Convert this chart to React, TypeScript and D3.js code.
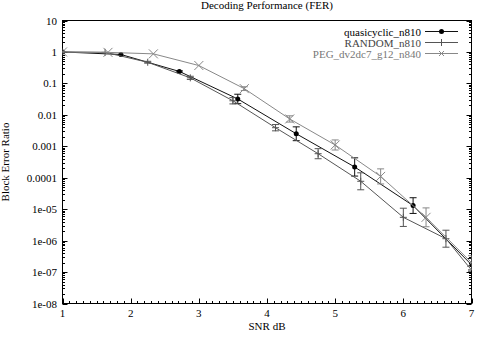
import React from "react";
import * as d3 from "d3";

const quasiX = [1, 1.857, 2.714, 3.571, 4.429, 5.286, 6.143, 7.0];
const quasiY = [1, 0.83, 0.24, 0.032, 0.0025, 0.00022, 1.3e-5, 1.7e-7];
const quasiErr = [0, 0, 0.02, 0.15, 0.22, 0.29, 0.25, 0.2];

const randX = [1, 1.625, 2.25, 2.875, 3.5, 4.125, 4.75, 5.375, 6.0, 6.625, 7.25];
const randY = [1, 0.97, 0.47, 0.15, 0.028, 0.0039, 0.00058, 7.7e-5, 5.5e-6, 1.15e-6, 2.5e-8];
const randErr = [0, 0, 0.03, 0.05, 0.1, 0.1, 0.16, 0.27, 0.29, 0.27, 0];

const pegX = [1, 1.667, 2.333, 3.0, 3.667, 4.333, 5.0, 5.667, 6.333, 7.0];
const pegY = [1, 0.97, 0.87, 0.37, 0.068, 0.0074, 0.0011, 0.00011, 5.5e-6, 2.0e-7];
const pegErr = [0, 0, 0, 0, 0.06, 0.1, 0.16, 0.24, 0.3, 0.22];

const xTicks = [1, 2, 3, 4, 5, 6, 7];
const yTicks = [10, 1, 0.1, 0.01, 0.001, 0.0001, 1e-5, 1e-6, 1e-7, 1e-8];
const yTickLabels = ["10", "1", "0.1", "0.01", "0.001", "0.0001", "1e-05", "1e-06", "1e-07", "1e-08"];
const seriesNames = ["quasicyclic_n810", "RANDOM_n810", "PEG_dv2dc7_g12_n840"];

const W = 479, H = 337;
const L = 62.5, R = 471.5, T = 20.5, B = 303.5;
const FONT = "'Liberation Serif', 'DejaVu Serif', serif";

export default function App() {
  const x = d3.scaleLinear().domain([1, 7]).range([L, R]);
  const y = d3.scaleLog().domain([1e-8, 10]).range([B, T]);

  const series = [
    { name: seriesNames[0], xs: quasiX, ys: quasiY, es: quasiErr, color: "#111", text: "#000", marker: "dot" },
    { name: seriesNames[1], xs: randX, ys: randY, es: randErr, color: "#555", text: "#444", marker: "plus" },
    { name: seriesNames[2], xs: pegX, ys: pegY, es: pegErr, color: "#888", text: "#777", marker: "x" },
  ];

  const line = d3.line<[number, number]>().x(d => x(d[0])).y(d => y(d[1]));

  const marker = (type: string, cx: number, cy: number, color: string, key: string) => {
    if (type === "dot") return <circle key={key} cx={cx} cy={cy} r={2.5} fill="#000" />;
    if (type === "plus") {
      const a = 3.5;
      return <path key={key} d={`M${cx - a},${cy}H${cx + a}M${cx},${cy - a}V${cy + a}`} stroke={color} strokeWidth={1} fill="none" />;
    }
    const a = 4.5;
    return <path key={key} d={`M${cx - a},${cy - a}L${cx + a},${cy + a}M${cx - a},${cy + a}L${cx + a},${cy - a}`} stroke={color} strokeWidth={1} fill="none" />;
  };

  // minor ticks
  const xMinor: number[] = [];
  for (let v = 1; v < 7; v++) for (let k = 1; k < 10; k++) xMinor.push(v + k / 10);
  const yMinor: number[] = [];
  for (let e = -8; e < 1; e++) for (let k = 2; k < 10; k++) yMinor.push(k * Math.pow(10, e));

  return (
    <svg width={W} height={H} style={{ position: "absolute", left: 0, top: 0, background: "#fff" }} fontFamily={FONT}>
      <defs>
        <clipPath id="plotclip">
          <rect x={L} y={T} width={R - L} height={B - T} />
        </clipPath>
      </defs>
      <rect x={0} y={0} width={W} height={H} fill="#fff" />
      <text x={(L + R) / 2} y={9} fontSize={11} textAnchor="middle" fill="#000">Decoding Performance (FER)</text>

      {/* x ticks */}
      {xTicks.map(v => (
        <g key={"xt" + v}>
          <line x1={Math.round(x(v)) + 0.5} x2={Math.round(x(v)) + 0.5} y1={B} y2={B - 5} stroke="#000" />
          <text x={x(v)} y={317} fontSize={11} textAnchor="middle" fill="#000">{v}</text>
        </g>
      ))}
      {xMinor.map((v, i) => (
        <line key={"xm" + i} x1={Math.round(x(v)) + 0.5} x2={Math.round(x(v)) + 0.5} y1={B} y2={B - 2.5} stroke="#000" />
      ))}

      {/* y ticks */}
      {yTicks.map((v, i) => {
        const py = Math.round(y(v)) + 0.5;
        return (
          <g key={"yt" + i}>
            <line x1={L} x2={L + 5} y1={py} y2={py} stroke="#000" />
            <line x1={R} x2={R - 5} y1={py} y2={py} stroke="#000" />
            <text x={57} y={y(v) + 4} fontSize={11} textAnchor="end" fill="#000">{yTickLabels[i]}</text>
          </g>
        );
      })}
      {yMinor.map((v, i) => {
        const py = Math.round(y(v)) + 0.5;
        return (
          <g key={"ym" + i}>
            <line x1={L} x2={L + 2.5} y1={py} y2={py} stroke="#000" />
            <line x1={R} x2={R - 2.5} y1={py} y2={py} stroke="#000" />
          </g>
        );
      })}

      <rect x={L} y={T} width={R - L} height={B - T} fill="none" stroke="#000" strokeWidth={1} />

      <text x={(L + R) / 2} y={330} fontSize={11} textAnchor="middle" fill="#000">SNR dB</text>
      <text transform={`translate(9,${(T + B) / 2}) rotate(-90)`} fontSize={11} textAnchor="middle" fill="#000">Block Error Ratio</text>

      <g clipPath="url(#plotclip)">
        {series.map((s, si) => {
          const pts: [number, number][] = s.xs.map((xv, i) => [xv, s.ys[i]]);
          return (
            <g key={"s" + si}>
              <path d={line(pts) || ""} fill="none" stroke={s.color} strokeWidth={1} />
              {pts.map((p, i) => {
                const e = s.es[i];
                if (e <= 0) return null;
                const cx = x(p[0]);
                const yl = y(p[1] / Math.pow(10, e));
                const yh = y(p[1] * Math.pow(10, e));
                return (
                  <path key={"e" + i} d={`M${cx},${yh}V${yl}M${cx - 3.5},${yh}H${cx + 3.5}M${cx - 3.5},${yl}H${cx + 3.5}`} stroke={s.color} strokeWidth={1} fill="none" />
                );
              })}
              {pts.map((p, i) => marker(s.marker, x(p[0]), y(p[1]), s.color, "m" + i))}
            </g>
          );
        })}
      </g>

      {/* legend */}
      {series.map((s, i) => {
        const cy = 31.5 + i * 11;
        return (
          <g key={"lg" + i}>
            <text x={421} y={cy + 4} fontSize={11} textAnchor="end" fill={s.text}>{s.name}</text>
            <line x1={425} x2={458} y1={cy} y2={cy} stroke={s.color} strokeWidth={1} />
            {s.marker === "x"
              ? <path d={`M${441.5 - 2.5},${cy - 2.5}L${441.5 + 2.5},${cy + 2.5}M${441.5 - 2.5},${cy + 2.5}L${441.5 + 2.5},${cy - 2.5}`} stroke={s.color} fill="none" />
              : marker(s.marker, 441.5, cy, s.color, "lm" + i)}
          </g>
        );
      })}
    </svg>
  );
}
